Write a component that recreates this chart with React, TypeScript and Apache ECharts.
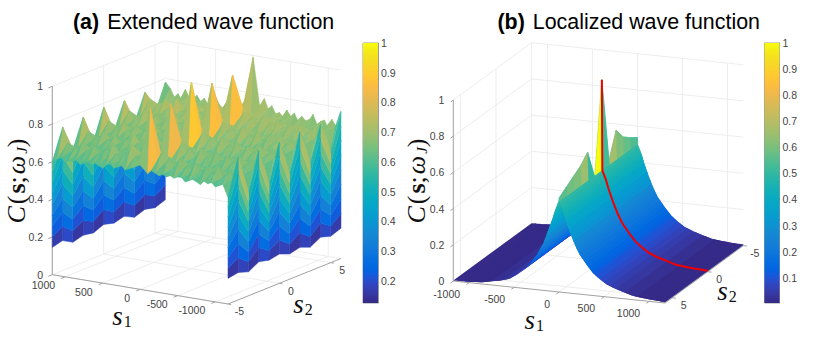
import React, { useEffect, useRef } from "react";
import * as echarts from "echarts";

// ---------- DATA ----------
const zTicks = [0, 0.2, 0.4, 0.6, 0.8, 1];
const s1Ticks = [1000, 500, 0, -500, -1000];
const s2Ticks = [-5, 0, 5];
const barTicksA = [0.2, 0.3, 0.4, 0.5, 0.6, 0.7, 0.8, 0.9, 1];
const barTicksB = [0.1, 0.2, 0.3, 0.4, 0.5, 0.6, 0.7, 0.8, 0.9, 1];

// Panel (a): rows run s2 = 6 ... -5, columns run s1 descending
const aS2 = [6, 5, 4, 3, 2, 1, 0, -1, -2, -3, -4, -5];
const aS1 = [1165, 1100, 1050, 1000, 950, 900, 850, 800, 750, 700, 650, 600, 550, 500, 450, 400, 350, 300, 250, 200, 150, 100, 0, -100, -150, -200, -250, -300, -350, -400, -450, -500, -550, -600, -650, -700, -750, -800, -850, -900, -950, -1000, -1050, -1100, -1165];
const aValues = [
  [.78, .75, .71, .73, .70, .76, .72, .70, .74, .71, .73, .70, .72, .75, .71, .69, .73, .70, .74, .72, .70, .76, .99, .70, .78, .73, .75, .71, .72, .70, .74, .71, .73, .69, .72, .70, .71, .74, .69, .71, .72, .68, .73, .70, .78],
  [.64, .68, .70, .67, .69, .68, .71, .69, .67, .70, .68, .69, .71, .68, .70, .69, .67, .70, .72, .69, .71, .70, .74, .69, .72, .70, .68, .70, .69, .71, .68, .69, .70, .67, .69, .68, .70, .67, .69, .68, .70, .67, .68, .69, .58],
  [.77, .74, .69, .72, .68, .75, .71, .69, .77, .70, .68, .72, .69, .76, .71, .68, .72, .69, .78, .72, .69, .73, .94, .69, .75, .71, .73, .68, .71, .74, .69, .72, .68, .73, .70, .68, .72, .69, .71, .73, .68, .70, .72, .68, .755],
  [.63, .66, .68, .65, .68, .66, .69, .67, .65, .68, .66, .68, .69, .65, .68, .67, .65, .68, .70, .67, .69, .68, .72, .67, .70, .68, .66, .68, .67, .69, .66, .67, .68, .65, .68, .66, .68, .65, .67, .66, .68, .65, .66, .67, .57],
  [.77, .72, .67, .70, .66, .74, .69, .67, .72, .68, .66, .71, .68, .75, .70, .66, .70, .68, .76, .70, .67, .72, .94, .68, .74, .70, .72, .67, .69, .73, .68, .70, .66, .72, .68, .67, .71, .67, .70, .72, .66, .69, .70, .67, .76],
  [.63, .65, .66, .64, .66, .65, .67, .65, .64, .67, .65, .66, .67, .64, .66, .65, .64, .67, .68, .66, .67, .66, .71, .66, .68, .66, .65, .67, .65, .67, .65, .66, .66, .64, .66, .65, .66, .64, .66, .65, .67, .64, .65, .66, .56],
  [.78, .71, .66, .69, .65, .72, .68, .66, .71, .67, .65, .70, .67, .74, .69, .65, .69, .67, .75, .69, .66, .71, .99, .67, .73, .68, .71, .66, .68, .72, .67, .69, .65, .71, .67, .66, .70, .66, .69, .71, .65, .67, .69, .66, .75],
  [.62, .64, .65, .63, .65, .64, .66, .64, .63, .66, .64, .65, .66, .63, .65, .64, .63, .65, .67, .65, .66, .65, .70, .65, .67, .65, .64, .66, .64, .65, .64, .65, .65, .63, .65, .64, .65, .63, .65, .64, .66, .63, .64, .65, .55],
  [.77, .70, .65, .68, .64, .71, .67, .65, .70, .66, .64, .69, .66, .73, .68, .64, .68, .66, .74, .68, .65, .70, .92, .66, .72, .67, .70, .65, .67, .71, .66, .68, .64, .70, .66, .65, .69, .65, .68, .70, .64, .66, .68, .65, .75],
  [.62, .63, .64, .62, .64, .63, .65, .63, .62, .65, .63, .64, .65, .62, .64, .63, .62, .64, .66, .64, .65, .64, .68, .64, .66, .64, .63, .65, .63, .64, .63, .64, .64, .62, .64, .63, .64, .62, .64, .63, .65, .62, .63, .64, .55],
  [.76, .68, .64, .67, .63, .70, .66, .64, .69, .65, .63, .68, .65, .72, .67, .63, .67, .65, .73, .67, .64, .69, .94, .65, .71, .66, .69, .64, .66, .70, .65, .67, .63, .69, .65, .64, .68, .64, .67, .69, .63, .65, .67, .64, .76],
  [.60, .62, .63, .61, .62, .62, .63, .61, .62, .63, .62, .63, .62, .61, .63, .64, .62, .63, .64, .62, .63, .64, .66, .62, .64, .63, .62, .63, .62, .63, .62, .63, .63, .61, .62, .63, .62, .61, .63, .62, .63, .61, .62, .63, .57],
];
// foot of the walls at s1 = +max and s1 = -max, same row order
const aWallFootPlus = [.156, .136, .149, .129, .156, .142, .157, .134, .143, .128, .159, .145];
const aWallFootMinus = [.161, .14, .157, .126, .147, .134, .156, .145, .159, .127, .145, .136];

// Panel (b): rows run s2 = -5 ... 6, columns run s1 ascending
const bS2 = [-5, -4, -3, -2, -1, 0, 1, 2, 3, 4, 5, 6];
const bS1 = [-1176, -1050, -950, -850, -750, -650, -550, -475, -400, -325, -250, -175, -125, -75, -45, -5, 0, 5, 45, 75, 125, 175, 225, 300, 375, 450, 525, 625, 725, 825, 925, 1025, 1176];
const bProfile = [.003, .004, .006, .01, .02, .03, .045, .07, .1, .14, .19, .26, .33, .40, .45, .50, .50, .50, .45, .40, .33, .27, .22, .17, .125, .095, .07, .05, .035, .02, .015, .01, .005];
const bRidgeCol = 16;
const bRidge = [.537, .565, .598, .663, .526, 1, .49, .657, .61, .58, .55, .52];
const bRedRow = 5;

const PARULA = [[.2081,.1663,.5292],[.2116,.1898,.5777],[.2123,.2138,.627],[.2081,.2386,.6771],[.1959,.2645,.7279],[.1707,.2919,.7792],[.1253,.3242,.8303],[.0591,.3598,.8683],[.0117,.3875,.882],[.006,.4086,.8828],[.0165,.4266,.8786],[.0329,.443,.872],[.0498,.4586,.8641],[.0629,.4737,.8554],[.0723,.4887,.8467],[.0779,.504,.8384],[.0793,.52,.8312],[.0749,.5375,.8263],[.0641,.557,.824],[.0488,.5772,.8228],[.0343,.5966,.8199],[.0265,.6137,.8135],[.0239,.6287,.8038],[.0231,.6418,.7913],[.0228,.6535,.7768],[.0267,.6642,.7607],[.0384,.6743,.7436],[.059,.6838,.7254],[.0843,.6928,.7062],[.1133,.7015,.6859],[.1453,.7098,.6646],[.1801,.7177,.6424],[.2178,.725,.6193],[.2586,.7317,.5954],[.3022,.7376,.5712],[.3482,.7424,.5473],[.3953,.7459,.5244],[.442,.7481,.5033],[.4871,.7491,.484],[.53,.7491,.4661],[.5709,.7485,.4494],[.6099,.7473,.4337],[.6473,.7456,.4188],[.6834,.7435,.4044],[.7184,.7411,.3905],[.7525,.7384,.3768],[.7858,.7356,.3633],[.8185,.7327,.3498],[.8507,.7299,.336],[.8824,.7274,.3217],[.9139,.7258,.3063],[.945,.7261,.2886],[.9739,.7314,.2666],[.9938,.7455,.2403],[.999,.7653,.2164],[.9955,.7861,.1967],[.988,.8066,.1794],[.9789,.8271,.1633],[.9697,.8481,.1475],[.9626,.8705,.1309],[.9589,.8949,.1132],[.9598,.9218,.0948],[.9661,.9514,.0755],[.9763,.9831,.0538]];

// ---------- LAYOUT ----------
const panelA = { l: [52.3, 274.7], b: [228, 304], r: [341, 258.5], zPx: 188.4, s1L: 1170, s1B: -1170, s2B: -5, s2R: 6, cMin: 0.126, zLabelDx: -9.3, s1Lab: [-10, 8.5], s2Lab: [11.5, 7.3] };
const panelB = { l: [453.3, 281], b: [665, 303], r: [743.3, 245.7], zPx: 181, s1L: -1176, s1B: 1176, s2B: 6, s2R: -5, cMin: 0.003, zLabelDx: -9, s1Lab: [-9, 11.5], s2Lab: [11.5, 7] };
const FONT = "'Liberation Sans', Arial, sans-serif";
const SERIF = "'Liberation Serif', serif";
const GRID = "#e9e9e9";
const AXIS = "#a2a2a2";
const LABEL = "#444";

type Panel = typeof panelA;
const project = (p: Panel, s1: number, s2: number, c: number): number[] => {
  const u = (s1 - p.s1L) / (p.s1B - p.s1L);
  const v = (s2 - p.s2B) / (p.s2R - p.s2B);
  return [
    p.l[0] + u * (p.b[0] - p.l[0]) + v * (p.r[0] - p.b[0]),
    p.l[1] + u * (p.b[1] - p.l[1]) + v * (p.r[1] - p.b[1]) - c * p.zPx,
  ];
};
const colorOf = (p: Panel, v: number): string => {
  const t = Math.min(1, Math.max(0, (v - p.cMin) / (1 - p.cMin)));
  const c = PARULA[Math.min(63, Math.floor(t * 64))];
  return `rgb(${Math.round(c[0] * 255)},${Math.round(c[1] * 255)},${Math.round(c[2] * 255)})`;
};
const poly = (api: any, pts: number[][], color: string) => ({
  type: "polygon",
  shape: { points: pts.map((q) => api.coord(q)) },
  style: { fill: color, stroke: color, lineWidth: 0.5 },
});
const flat = (api: any, pts: number[][], color: string) => ({
  type: "polygon",
  shape: { points: pts.map((q) => api.coord(q)) },
  style: { fill: color },
});

function frameSeries(p: Panel) {
  return {
    type: "custom",
    coordinateSystem: "cartesian2d",
    xAxisIndex: 0,
    yAxisIndex: 0,
    silent: true,
    clip: false,
    data: [[0, 0]],
    renderItem: (_: any, api: any) => {
      const kids: any[] = [];
      const seg = (a: number[], b: number[], stroke: string, w: number) => {
        const A = api.coord(a), B = api.coord(b);
        kids.push({ type: "line", shape: { x1: A[0], y1: A[1], x2: B[0], y2: B[1] }, style: { stroke, lineWidth: w } });
      };
      const txt = (t: string, pos: number[], align: string) => {
        const A = api.coord(pos);
        kids.push({ type: "text", x: A[0], y: A[1], style: { text: t, fill: LABEL, fontSize: 10.5, fontFamily: FONT, align, verticalAlign: "middle" } });
      };
      const { s1L, s1B, s2B, s2R } = p;
      for (const z of zTicks) {
        seg(project(p, s1L, s2B, z), project(p, s1L, s2R, z), GRID, 0.8);
        seg(project(p, s1L, s2R, z), project(p, s1B, s2R, z), GRID, 0.8);
      }
      for (const s of s1Ticks) {
        seg(project(p, s, s2R, 0), project(p, s, s2R, 1), GRID, 0.8);
        seg(project(p, s, s2B, 0), project(p, s, s2R, 0), GRID, 0.8);
      }
      for (const s of s2Ticks) {
        seg(project(p, s1L, s, 0), project(p, s1L, s, 1), GRID, 0.8);
        seg(project(p, s1L, s, 0), project(p, s1B, s, 0), GRID, 0.8);
      }
      seg(project(p, s1L, s2B, 0), project(p, s1L, s2B, 1), AXIS, 1);
      seg(project(p, s1L, s2B, 0), project(p, s1B, s2B, 0), AXIS, 1);
      seg(project(p, s1B, s2B, 0), project(p, s1B, s2R, 0), AXIS, 1);
      const s2Out = s2B - (s2R - s2B) * 0.035;
      const s1Out = s1B + (s1B - s1L) * 0.018;
      for (const z of zTicks) {
        seg(project(p, s1L, s2B, z), project(p, s1L, s2Out, z), AXIS, 1);
        const q = project(p, s1L, s2B, z);
        txt(String(z), [q[0] + p.zLabelDx, q[1]], "right");
      }
      for (const s of s1Ticks) {
        seg(project(p, s, s2B, 0), project(p, s, s2Out, 0), AXIS, 1);
        const q = project(p, s, s2B, 0);
        txt(String(s), [q[0] + p.s1Lab[0], q[1] + p.s1Lab[1]], "right");
      }
      for (const s of s2Ticks) {
        seg(project(p, s1B, s, 0), project(p, s1Out, s, 0), AXIS, 1);
        const q = project(p, s1B, s, 0);
        txt(String(s), [q[0] + p.s2Lab[0], q[1] + p.s2Lab[1]], "center");
      }
      return { type: "group", children: kids };
    },
  };
}

// Panel (a) cells: [kind, row, col]; kind 0 = wall at +max, 1 = plateau, 2 = wall at -max
const aCells: number[][] = [];
for (let r = 0; r < aS2.length - 1; r++) aCells.push([0, r, 0]);
for (let c = 0; c < aS1.length - 1; c++) for (let r = 0; r < aS2.length - 1; r++) aCells.push([1, r, c]);
for (let r = 0; r < aS2.length - 1; r++) aCells.push([2, r, aS1.length - 1]);
const WALL_BANDS = 8;

function surfaceA() {
  return {
    type: "custom",
    coordinateSystem: "cartesian2d",
    xAxisIndex: 0,
    yAxisIndex: 0,
    silent: true,
    clip: false,
    progressive: 0,
    data: aCells,
    renderItem: (params: any, api: any) => {
      const [kind, r, c] = aCells[params.dataIndex];
      const p = panelA;
      if (kind === 1) {
        const v00 = aValues[r][c], v01 = aValues[r][c + 1], v10 = aValues[r + 1][c], v11 = aValues[r + 1][c + 1];
        const mean = (v00 + v01 + v10 + v11) / 4;
        const rightColor = r === 0 ? Math.min(v00, v01, v10, v11) : 0.6 * v00 + 0.4 * mean - 0.01;
        const leftColor = 0.6 * v10 + 0.4 * mean - 0.02;
        const P00 = project(p, aS1[c], aS2[r], v00);
        const P01 = project(p, aS1[c + 1], aS2[r], v01);
        const P11 = project(p, aS1[c + 1], aS2[r + 1], v11);
        const P10 = project(p, aS1[c], aS2[r + 1], v10);
        return {
          type: "group",
          children: [
            poly(api, [P00, P11, P10], colorOf(p, leftColor)),
            poly(api, [P00, P01, P11], colorOf(p, rightColor)),
          ],
        };
      }
      const foot = kind === 0 ? aWallFootPlus : aWallFootMinus;
      const s = kind === 0 ? p.s1L : p.s1B;
      const t0 = aValues[r][c], t1 = aValues[r + 1][c], f0 = foot[r], f1 = foot[r + 1];
      const kids: any[] = [];
      for (let k = 0; k < WALL_BANDS; k++) {
        const a = k / WALL_BANDS, b = (k + 1) / WALL_BANDS;
        kids.push(poly(api, [
          project(p, s, aS2[r], f0 + a * (t0 - f0)),
          project(p, s, aS2[r + 1], f1 + a * (t1 - f1)),
          project(p, s, aS2[r + 1], f1 + b * (t1 - f1)),
          project(p, s, aS2[r], f0 + b * (t0 - f0)),
        ], colorOf(p, f1 + ((k + 0.5) / WALL_BANDS) * (t1 - f1))));
      }
      return { type: "group", children: kids };
    },
  };
}

const bAt = (r: number, c: number) => (c === bRidgeCol ? bRidge[r] : bProfile[c]);
const isRidgeCell = (c: number) => c === bRidgeCol - 1 || c === bRidgeCol;
// Panel (b) pieces: [column, row]; row -1 marks one whole strip across all rows
const bCells: number[][] = [];
for (let c = 0; c < bS1.length - 1; c++) {
  if (isRidgeCell(c)) for (let r = 0; r < bS2.length - 1; r++) bCells.push([c, r]);
  else bCells.push([c, -1]);
}
const STRIP_BANDS = 3;

function surfaceB() {
  return {
    type: "custom",
    coordinateSystem: "cartesian2d",
    xAxisIndex: 0,
    yAxisIndex: 0,
    silent: true,
    clip: false,
    progressive: 0,
    data: bCells,
    renderItem: (params: any, api: any) => {
      const [c, r] = bCells[params.dataIndex];
      const p = panelB;
      if (r >= 0) {
        return poly(api, [
          project(p, bS1[c], bS2[r], bAt(r, c)),
          project(p, bS1[c + 1], bS2[r], bAt(r, c + 1)),
          project(p, bS1[c + 1], bS2[r + 1], bAt(r + 1, c + 1)),
          project(p, bS1[c], bS2[r + 1], bAt(r + 1, c)),
        ], colorOf(p, bAt(r, c)));
      }
      const far = bS2[0], near = bS2[bS2.length - 1];
      const kids: any[] = [];
      const v0 = bProfile[c], v1 = bProfile[c + 1];
      const nextIsStrip = c + 2 < bS1.length && !isRidgeCell(c + 1);
      for (let k = 0; k < STRIP_BANDS; k++) {
        const a = k / STRIP_BANDS, b = Math.min(1, (k + 1.25) / STRIP_BANDS);
        const sa = bS1[c] + a * (bS1[c + 1] - bS1[c]), sb = bS1[c] + b * (bS1[c + 1] - bS1[c]);
        const va = v0 + a * (v1 - v0), vb = v0 + b * (v1 - v0);
        const color = colorOf(p, v0 + ((k + 0.5) / STRIP_BANDS) * (v1 - v0));
        if (k === STRIP_BANDS - 1 && nextIsStrip) {
          // reaches under the next strip, which paints over it, so that no seam shows
          kids.push(flat(api, [
            project(p, sa, far, va),
            project(p, bS1[c + 1], far, v1),
            project(p, bS1[c + 2], far, bProfile[c + 2]),
            project(p, bS1[c + 2], near, bProfile[c + 2]),
            project(p, bS1[c + 1], near, v1),
            project(p, sa, near, va),
          ], color));
        } else if (k === STRIP_BANDS - 1) {
          kids.push(poly(api, [
            project(p, sa, far, va),
            project(p, sb, far, vb),
            project(p, sb, near, vb),
            project(p, sa, near, va),
          ], color));
        } else {
          kids.push(flat(api, [
            project(p, sa, far, va),
            project(p, sb, far, vb),
            project(p, sb, near, vb),
            project(p, sa, near, va),
          ], color));
        }
      }
      return { type: "group", children: kids };
    },
  };
}

const redLine = bS1.map((s, c) => ({ s, c })).filter((d) => d.c >= bRidgeCol)
  .map((d) => project(panelB, d.s, bS2[bRedRow], bAt(bRedRow, d.c)));

const gradient = () =>
  new echarts.graphic.LinearGradient(0, 1, 0, 0, PARULA.map((c, i) => ({
    offset: i / 63,
    color: `rgb(${Math.round(c[0] * 255)},${Math.round(c[1] * 255)},${Math.round(c[2] * 255)})`,
  })));

const barY = (grid: number, min: number, ticks: number[]) => ({
  type: "value", gridIndex: grid, position: "right", min, max: 1,
  splitLine: { show: false },
  axisLine: { show: true, lineStyle: { color: "#9a9a9a" } },
  axisTick: { show: true, inside: true, length: 3, customValues: ticks, lineStyle: { color: "#666" } },
  axisLabel: { show: true, customValues: ticks, margin: 3, fontSize: 10.5, fontFamily: FONT, color: LABEL },
});
const mathRich = {
  i: { fontFamily: SERIF, fontStyle: "italic", fontSize: 27, fill: "#111", verticalAlign: "bottom", padding: [0, 1, 0, 0] },
  sub: { fontFamily: SERIF, fontSize: 16, fill: "#111", verticalAlign: "bottom", lineHeight: 22 },
};
const axisName = (x: number, y: number, text: string) => ({
  type: "text", x, y, silent: true,
  style: { text, rich: mathRich, align: "center", verticalAlign: "middle", fill: "#111" },
});
const cName = (x: number, y: number) => ({
  type: "text", x, y, rotation: Math.PI / 2, silent: true,
  style: {
    text: "{i|C}{r|(}{b|s}{r|;}{i|ω}{j|J}{r|)}",
    align: "center", verticalAlign: "middle", fill: "#111",
    rich: {
      i: { fontFamily: SERIF, fontStyle: "italic", fontSize: 26, fill: "#111", verticalAlign: "bottom", padding: [0, 2, 0, 0] },
      r: { fontFamily: SERIF, fontSize: 26, fill: "#111", verticalAlign: "bottom", padding: [0, 2, 0, 0] },
      b: { fontFamily: SERIF, fontWeight: "bold", fontSize: 26, fill: "#111", verticalAlign: "bottom", padding: [0, 0, 0, 0] },
      j: { fontFamily: SERIF, fontStyle: "italic", fontSize: 15, fill: "#111", verticalAlign: "bottom", lineHeight: 21 },
    },
  },
});
const titleOf = (left: number, tag: string, text: string) => ({
  text: `{b|${tag}}{n|${text}}`,
  left,
  top: 11,
  padding: 0,
  textStyle: {
    rich: {
      b: { fontFamily: FONT, fontSize: 21.4, fontWeight: "bold", color: "#000", padding: [0, 8, 0, 0] },
      n: { fontFamily: FONT, fontSize: 21.4, fontWeight: "normal", color: "#000" },
    },
  },
});

export default function App() {
  const ref = useRef<HTMLDivElement>(null);
  useEffect(() => {
    document.body.style.margin = "0";
    const chart = echarts.init(ref.current!, undefined, { renderer: "svg" });
    chart.setOption({
      animation: false,
      backgroundColor: "#fff",
      title: [titleOf(73, "(a)", "Extended wave function"), titleOf(497.5, "(b)", "Localized wave function")],
      grid: [
        { left: 0, top: 0, width: 830, height: 347 },
        { left: 363, top: 43, width: 15, height: 260, show: true, borderColor: "#9a9a9a", borderWidth: 1, backgroundColor: "transparent" },
        { left: 764.5, top: 43, width: 15, height: 260, show: true, borderColor: "#9a9a9a", borderWidth: 1, backgroundColor: "transparent" },
      ],
      xAxis: [
        { type: "value", gridIndex: 0, min: 0, max: 830, show: false },
        { type: "category", gridIndex: 1, data: ["C"], show: false },
        { type: "category", gridIndex: 2, data: ["C"], show: false },
      ],
      yAxis: [
        { type: "value", gridIndex: 0, min: 0, max: 347, inverse: true, show: false },
        barY(1, panelA.cMin, barTicksA),
        barY(2, panelB.cMin, barTicksB),
      ],
      series: [
        frameSeries(panelA),
        frameSeries(panelB),
        surfaceA(),
        surfaceB(),
        { type: "line", xAxisIndex: 0, yAxisIndex: 0, data: redLine, showSymbol: false, silent: true, clip: false, lineStyle: { color: "#f00000", width: 2 } },
        { type: "bar", xAxisIndex: 1, yAxisIndex: 1, data: [1], barWidth: "100%", silent: true, itemStyle: { color: gradient() } },
        { type: "bar", xAxisIndex: 2, yAxisIndex: 2, data: [1], barWidth: "100%", silent: true, itemStyle: { color: gradient() } },
      ],
      graphic: [
        cName(16, 180),
        cName(416, 180),
        axisName(122, 316, "{i|s}{sub|1}"),
        axisName(303, 304, "{i|s}{sub|2}"),
        axisName(534.3, 320, "{i|s}{sub|1}"),
        axisName(727, 291, "{i|s}{sub|2}"),
      ],
    });
    return () => chart.dispose();
  }, []);
  return <div ref={ref} style={{ width: 830, height: 347 }} />;
}
